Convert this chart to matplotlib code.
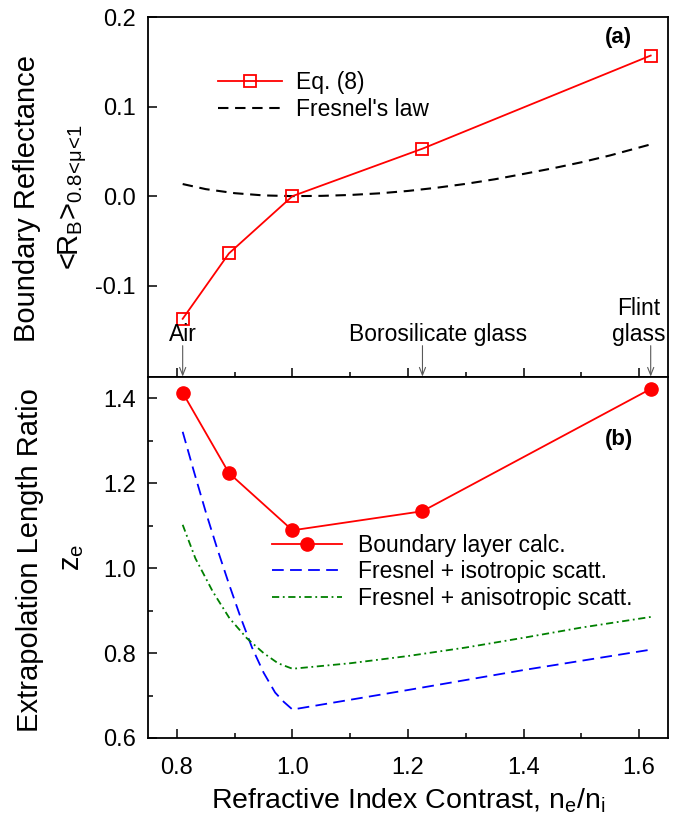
import matplotlib
matplotlib.use("Agg")
import matplotlib.pyplot as plt
from matplotlib.ticker import MultipleLocator, FixedLocator

plt.rcParams['font.family'] = ['Liberation Sans', 'DejaVu Sans']
plt.rcParams['mathtext.default'] = 'regular'

# ---- (a) boundary reflectance ----
eq8_x = [0.81, 0.89, 1.0, 1.225, 1.62]
eq8_y = [-0.137, -0.064, 0.0, 0.053, 0.157]

fresnel_x = [0.81, 0.85, 0.90, 0.95, 1.00, 1.05, 1.10, 1.15, 1.20, 1.25,
             1.30, 1.35, 1.40, 1.45, 1.50, 1.55, 1.62]
fresnel_y = [0.0135, 0.0078, 0.0033, 0.0008, 0.0, 0.0003, 0.0013, 0.0031,
             0.0058, 0.0094, 0.0137, 0.0188, 0.0248, 0.0310, 0.0378,
             0.0455, 0.0578]

# ---- (b) extrapolation length ratio ----
bl_x = [0.81, 0.89, 1.0, 1.225, 1.62]
bl_y = [1.413, 1.224, 1.089, 1.134, 1.422]

iso_x = [0.81, 0.83, 0.85, 0.87, 0.89, 0.91, 0.93, 0.95, 0.97, 0.985, 1.0,
         1.2, 1.4, 1.62]
iso_y = [1.321, 1.225, 1.132, 1.045, 0.963, 0.885, 0.813, 0.754, 0.707,
         0.685, 0.667, 0.713, 0.760, 0.808]

aniso_x = [0.81, 0.832, 0.862, 0.891, 0.921, 0.95, 0.975, 1.0,
           1.1, 1.2, 1.3, 1.4, 1.5, 1.62]
aniso_y = [1.102, 1.023, 0.945, 0.882, 0.835, 0.800, 0.776, 0.763,
           0.776, 0.793, 0.813, 0.836, 0.860, 0.885]

materials = ["Air", "Borosilicate glass", "Flint\nglass"]
material_x = [0.81, 1.225, 1.62]
material_text_x = [0.81, 1.252, 1.60]

FS_TICK = 17
FS_LAB = 20.5
FS_LEG = 16.5

fig = plt.figure(figsize=(6.78, 8.23), dpi=100)
L, W = 0.2183, 0.767
ax1 = fig.add_axes([L, 0.5419, W, 0.4374])
ax2 = fig.add_axes([L, 0.1033, W, 0.4386])

red = '#ff0000'

# top panel
ax1.plot(eq8_x, eq8_y, color=red, lw=1.3, marker='s', ms=8.5,
         mfc='none', mec=red, mew=1.3, label='Eq. (8)', zorder=3)
ax1.plot(fresnel_x, fresnel_y, color='black', lw=1.5, dashes=(5.0, 3.2),
         label="Fresnel's law", zorder=2)
ax1.set_xlim(0.75, 1.65)
ax1.set_ylim(-0.202, 0.2)
ax1.yaxis.set_major_locator(FixedLocator([-0.1, 0.0, 0.1, 0.2]))
ax1.set_yticklabels(['-0.1', '0.0', '0.1', '0.2'])
ax1.xaxis.set_major_locator(MultipleLocator(0.2))
ax1.xaxis.set_minor_locator(MultipleLocator(0.1))
ax1.tick_params(axis='x', which='both', labelbottom=False)

for name, xa, xt in zip(materials, material_x, material_text_x):
    ty = -0.140 if '\n' in name else -0.155
    ax1.text(xt, ty, name, ha='center', va='center', fontsize=FS_LEG,
             linespacing=1.15)
    ax1.annotate('', xy=(xa, -0.2015), xytext=(xa, -0.167),
                 arrowprops=dict(arrowstyle='->,head_length=0.55,head_width=0.22',
                                 color='0.35', lw=0.8, shrinkA=0, shrinkB=0))

ax1.text(1.565, 0.177, '(a)', fontsize=16, fontweight='bold',
         ha='center', va='center')

leg1 = ax1.legend(loc='upper left', bbox_to_anchor=(0.135, 0.851),
                  frameon=False, fontsize=FS_LEG, handlelength=2.8,
                  handletextpad=0.6, labelspacing=0.2, borderpad=0,
                  borderaxespad=0)

# bottom panel
ax2.plot(bl_x, bl_y, color=red, lw=1.3, marker='o', ms=9.5,
         mfc=red, mec=red, label='Boundary layer calc.', zorder=3)
ax2.plot(iso_x, iso_y, color='#0000ff', lw=1.3, dashes=(6.5, 3.5),
         label='Fresnel + isotropic scatt.', zorder=2)
ax2.plot(aniso_x, aniso_y, color='#008000', lw=1.3, dashes=(4, 2, 1, 2),
         label='Fresnel + anisotropic scatt.', zorder=2)
ax2.set_xlim(0.75, 1.65)
ax2.set_ylim(0.6, 1.45)
ax2.yaxis.set_major_locator(MultipleLocator(0.2))
ax2.yaxis.set_minor_locator(MultipleLocator(0.1))
ax2.xaxis.set_major_locator(MultipleLocator(0.2))
ax2.xaxis.set_minor_locator(MultipleLocator(0.1))
ax2.set_xticks([0.8, 1.0, 1.2, 1.4, 1.6])
ax2.set_xticklabels(['0.8', '1.0', '1.2', '1.4', '1.6'])
ax2.set_yticks([0.6, 0.8, 1.0, 1.2, 1.4])
ax2.set_yticklabels(['0.6', '0.8', '1.0', '1.2', '1.4'])

ax2.text(1.565, 1.302, '(b)', fontsize=16, fontweight='bold',
         ha='center', va='center')

leg2 = ax2.legend(loc='upper left', bbox_to_anchor=(0.238, 0.565),
                  frameon=False, fontsize=FS_LEG, handlelength=3.05,
                  handletextpad=0.7, labelspacing=0.15, borderpad=0,
                  borderaxespad=0)

for ax in (ax1, ax2):
    for s in ax.spines.values():
        s.set_linewidth(1.3)
    ax.tick_params(which='both', direction='in', labelsize=FS_TICK,
                   width=1.1, top=False, right=False)
    ax.tick_params(which='major', length=6.5)
    ax.tick_params(which='minor', length=3.5)
    ax.tick_params(axis='y', pad=9)
ax2.tick_params(axis='x', pad=14)
ax1.tick_params(axis='y', which='minor', left=False)

ax2.set_xlabel('Refractive Index Contrast, n$_e$/n$_i$', fontsize=FS_LAB,
               labelpad=5)

# y-axis titles
fig.text(27 / 678, 1 - 199 / 823, 'Boundary Reflectance', rotation=90,
         ha='center', va='center', fontsize=FS_LAB + 0.5)
fig.text(73 / 678, 1 - 197 / 823,
         '<R$_B$>$_{0.8\\!<\\!\u03bc\\!<\\!1}$',
         rotation=90, ha='center', va='center', fontsize=FS_LAB + 0.5)
fig.text(30 / 678, 1 - 560 / 823, 'Extrapolation Length Ratio', rotation=90,
         ha='center', va='center', fontsize=FS_LAB + 0.5)
fig.text(72 / 678, 1 - 557 / 823, 'z$_e$', rotation=90,
         ha='center', va='center', fontsize=FS_LAB + 0.5)

fig.savefig('out.png', dpi=100)
